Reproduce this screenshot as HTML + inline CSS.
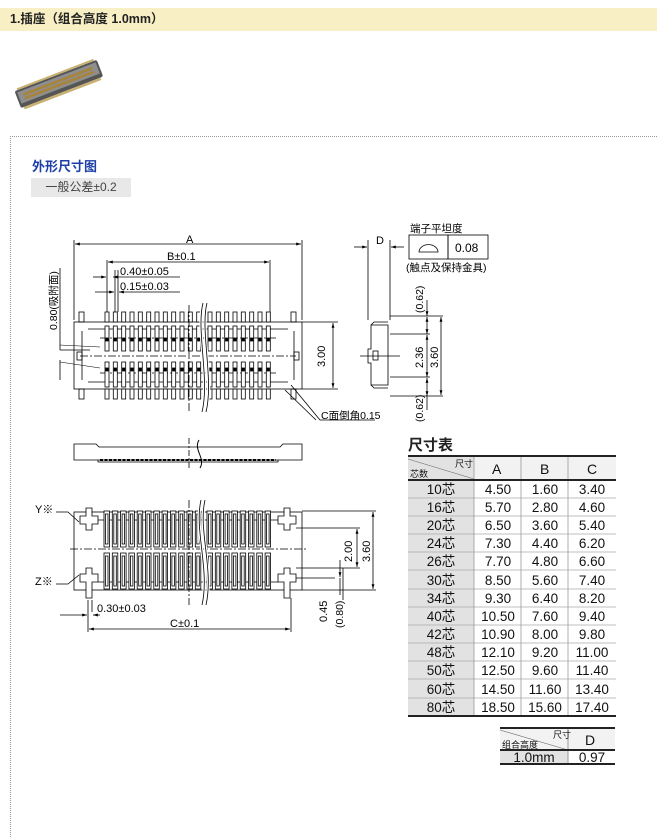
<!DOCTYPE html>
<html><head><meta charset="utf-8"><style>
body{margin:0;background:#fff;width:657px;height:793px;overflow:hidden;position:relative;font-family:"Liberation Sans","Noto Sans CJK SC",sans-serif}
.hdr{position:absolute;left:0;top:8px;width:657px;height:23px;background:#f8f0c4;font-size:12.5px;font-weight:bold;line-height:23px;color:#222;padding-left:10px;box-sizing:border-box}
.box{position:absolute;left:10px;top:136px;width:660px;height:700px;border-left:1px dotted #999;border-top:1px dotted #999}
.t1{position:absolute;left:32px;top:156px;font-size:13px;font-weight:bold;color:#1c3fa8}
.gb{position:absolute;left:31px;top:178px;width:100px;height:19px;background:#e8e8e8;font-size:12px;color:#444;line-height:19px;text-align:center}
</style></head><body>
<div class="hdr">1.插座（组合高度 1.0mm）</div>
<svg style="position:absolute;left:0;top:0" width="657" height="793">
<g transform="translate(16,95) rotate(-21)">
<rect x="0" y="-4" width="88" height="18" rx="2" fill="#555"/>
<rect x="2" y="-2" width="84" height="12" fill="#8e8e8e"/>
<rect x="7" y="1" width="74" height="2.5" fill="#a8843a"/>
<rect x="7" y="5" width="74" height="2.5" fill="#a8843a"/>
<rect x="3" y="14" width="82" height="2.5" fill="#c8b070"/>
<rect x="3" y="-6" width="82" height="2" fill="#c8b070"/>
</g>
</svg>
<div class="box"></div>
<div class="t1">外形尺寸图</div>
<div class="gb">一般公差±0.2</div>
<svg style="position:absolute;left:0;top:0" width="657" height="793" font-family="Liberation Sans, Noto Sans CJK SC, sans-serif" font-size="11">
<defs>
<g id="ct" fill="#fff" stroke="#000" stroke-width="0.8">
<rect x="0" y="312" width="4" height="10"/>
<rect x="0" y="326" width="4" height="25"/>
<rect x="0" y="362" width="4" height="25"/>
<rect x="0" y="389" width="4" height="10"/>
<rect x="0.8" y="338" width="2.4" height="3" fill="#000"/>
<rect x="0.8" y="368" width="2.4" height="3" fill="#000"/>
</g>
<g id="cb" fill="#fff" stroke="#000" stroke-width="0.8">
<rect x="0" y="511" width="5.5" height="36"/>
<rect x="1.5" y="514" width="2.5" height="30"/>
<rect x="0" y="553" width="5.5" height="36"/>
<rect x="1.5" y="556" width="2.5" height="30"/>
</g>
<marker id="a" viewBox="0 0 10 10" refX="10" refY="5" markerWidth="6" markerHeight="6" orient="auto-start-reverse"><path d="M0,2 L10,5 L0,8z" fill="#000"/></marker>
</defs>
<g stroke="#000" stroke-width="0.8" fill="none">
<rect x="74" y="322" width="228" height="67" fill="#fff"/>
<path d="M88,329 H288 M88,382 H288 M82,331 V380 M294,331 V380"/>
<path d="M100,338 H276 M100,373 H276 M80,356 H296" stroke-dasharray="8,2,2,2"/>
<rect x="77" y="352" width="5" height="8"/><rect x="294" y="352" width="5" height="8"/>
<rect x="79" y="312" width="5" height="10"/><rect x="291" y="312" width="5" height="10"/>
<rect x="79" y="389" width="5" height="10"/><rect x="291" y="389" width="5" height="10"/>
</g>
<use href="#ct" x="105"/><use href="#ct" x="113.3"/><use href="#ct" x="121.7"/><use href="#ct" x="130"/><use href="#ct" x="138.3"/><use href="#ct" x="146.7"/><use href="#ct" x="155"/><use href="#ct" x="163.3"/><use href="#ct" x="171.7"/><use href="#ct" x="180"/><use href="#ct" x="188.3"/><use href="#ct" x="196.7"/>
<use href="#ct" x="208"/><use href="#ct" x="216.3"/><use href="#ct" x="224.7"/><use href="#ct" x="233"/><use href="#ct" x="241.3"/><use href="#ct" x="249.7"/><use href="#ct" x="258"/><use href="#ct" x="266.3"/>
<g stroke="#000" stroke-width="0.8" fill="none">
<path d="M203,303 C196,330 210,380 202,412 M207,303 C200,330 214,380 206,412" stroke="#fff" stroke-width="3"/>
<path d="M203,303 C196,330 210,380 202,412 M207,303 C200,330 214,380 206,412"/>
<path d="M189,305 V412" stroke-dasharray="8,2,2,2"/>
<path d="M74,240 V320 M302,240 V320 M107,260 V312 M270,260 V312"/>
<path d="M75,244 H301" marker-start="url(#a)" marker-end="url(#a)"/>
<path d="M108,262 H269" marker-start="url(#a)" marker-end="url(#a)"/>
<path d="M93,277 H106" marker-end="url(#a)"/><path d="M113,277 H180" marker-start="url(#a)"/>
<path d="M118,270 V312 M115,270 V312"/>
<path d="M95,292 H114" marker-end="url(#a)"/><path d="M119,292 H180" marker-start="url(#a)"/>
<path d="M302,322 H338 M302,389 H338"/>
<path d="M333,323 V388" marker-start="url(#a)" marker-end="url(#a)"/>
<path d="M60,268 V350 M60,350 L90,350 M60,360 V380"/>
<path d="M60,345 L100,347 M60,362 L100,368" stroke-width="0.6"/>
<path d="M291,385 L320,420 H375 M285,390 L316,420"/>
<path d="M74,444 H96 L99,447 H280 L283,444 H302 V460 H74 Z" fill="#fff"/>
<path d="M98,460 V462 H278 V460"/>
<path d="M100,460 H276" stroke-dasharray="3,1.5" stroke-width="2"/>
<path d="M189,438 V470" stroke-dasharray="6,2,2,2"/>
<path d="M199,440 C193,450 206,458 200,468" stroke-width="1"/>
<path d="M371,325 H388 V385 H371 V363 H368 V349 H371 Z M371,325 L374,322 H388 M371,385 L374,388 H388" fill="#fff"/>
<rect x="373" y="351" width="5" height="9"/>
<path d="M360,356 H400"/>
<path d="M368,240 V320 M390,240 V320"/><path d="M354,247 H367" marker-end="url(#a)"/><path d="M391,247 H404" marker-start="url(#a)"/>
<path d="M390,316 H443 M390,334 H430 M390,377 H430 M390,396 H443"/>
<path d="M427,300 V316" marker-end="url(#a)"/><path d="M427,317 V334" marker-start="url(#a)" marker-end="url(#a)"/>
<path d="M427,335 V377" marker-start="url(#a)" marker-end="url(#a)"/><path d="M427,378 V396" marker-start="url(#a)" marker-end="url(#a)"/>
<path d="M427,396 V410"/>
<path d="M441,317 V395" marker-start="url(#a)" marker-end="url(#a)"/>
<rect x="409" y="235" width="39" height="24"/><rect x="448" y="235" width="40" height="24"/>
<path d="M419,252 H438 A9,7 0 0 0 419,252 Z"/>
<rect x="74" y="512" width="228" height="78" fill="#fff"/>
<path d="M98,520 H278 M98,582 H278"/>
</g>
<use href="#cb" x="104"/><use href="#cb" x="112.3"/><use href="#cb" x="120.6"/><use href="#cb" x="128.9"/><use href="#cb" x="137.2"/><use href="#cb" x="145.5"/><use href="#cb" x="153.8"/><use href="#cb" x="162.1"/><use href="#cb" x="170.4"/><use href="#cb" x="178.7"/><use href="#cb" x="187"/><use href="#cb" x="195.3"/>
<use href="#cb" x="207"/><use href="#cb" x="215.3"/><use href="#cb" x="223.6"/><use href="#cb" x="231.9"/><use href="#cb" x="240.2"/><use href="#cb" x="248.5"/><use href="#cb" x="256.8"/><use href="#cb" x="265.1"/>
<g stroke="#000" stroke-width="0.8" fill="#fff">
<path d="M80,516 H86 V508 H92 V516 H98 V524 H92 V530 H86 V524 H80 Z"/>
<path d="M278,516 H284 V508 H290 V516 H296 V524 H290 V530 H284 V524 H278 Z"/>
<path d="M80,574 H86 V568 H92 V574 H98 V582 H92 V598 H86 V582 H80 Z"/>
<path d="M278,574 H284 V568 H290 V574 H296 V582 H290 V598 H284 V582 H278 Z"/>
</g>
<g stroke="#000" stroke-width="0.8" fill="none">
<path d="M70,549 H306" stroke-dasharray="8,2,2,2"/>
<path d="M189,500 V605" stroke-dasharray="8,2,2,2"/>
<path d="M201,500 C194,530 210,570 202,605 M205,500 C198,530 214,570 206,605" stroke="#fff" stroke-width="3"/>
<path d="M201,500 C194,530 210,570 202,605 M205,500 C198,530 214,570 206,605"/>
<path d="M56,512 H68 L79,522 M56,584 H68 L79,575"/>
<path d="M302,511 H376 M296,528 H360 M296,568 H360 M296,578 H335 M302,590 H376"/>
<path d="M373,512 V589" marker-start="url(#a)" marker-end="url(#a)"/>
<path d="M357,529 V567" marker-start="url(#a)" marker-end="url(#a)"/>
<path d="M340,560 V577" marker-end="url(#a)"/><path d="M340,578 V595"/>
<path d="M343,568 V600"/>
<path d="M88,600 V632 M92,600 V612 M291,598 V632"/>
<path d="M60,615 H87" marker-end="url(#a)"/><path d="M93,615 H100" marker-start="url(#a)"/>
<path d="M89,629 H290" marker-start="url(#a)" marker-end="url(#a)"/>
</g>
<g font-size="11" fill="#000">
<text x="186" y="243">A</text>
<text x="167" y="260">B±0.1</text>
<text x="120" y="275">0.40±0.05</text>
<text x="120" y="290">0.15±0.03</text>
<text transform="translate(57,330) rotate(-90)" font-size="10.5">0.80(吸附面)</text>
<text transform="translate(325,367) rotate(-90)">3.00</text>
<text x="321" y="419" font-size="10.5">C面倒角0.15</text>
<text x="376" y="244">D</text>
<text x="410" y="232" font-size="10.5">端子平坦度</text>
<text x="455" y="252" font-size="12">0.08</text>
<text x="406" y="271" font-size="10.5">(触点及保持金具)</text>
<text transform="translate(423,313) rotate(-90)" font-size="10.5">(0.62)</text>
<text transform="translate(423,368) rotate(-90)">2.36</text>
<text transform="translate(438,368) rotate(-90)">3.60</text>
<text transform="translate(423,422) rotate(-90)" font-size="10.5">(0.62)</text>
<text x="35" y="513">Y※</text>
<text x="35" y="585">Z※</text>
<text transform="translate(352,562) rotate(-90)">2.00</text>
<text transform="translate(370,562) rotate(-90)">3.60</text>
<text transform="translate(327,622) rotate(-90)">0.45</text>
<text transform="translate(343,628) rotate(-90)" font-size="10.5">(0.80)</text>
<text x="97" y="612">0.30±0.03</text>
<text x="170" y="627">C±0.1</text>
</g>
<text x="408" y="450" font-size="15" font-weight="bold" fill="#222">尺寸表</text>
<g fill="#111">
<rect x="408" y="456" width="66" height="24" fill="#e2e2e2"/>
<rect x="474" y="456" width="142" height="24" fill="#f2f2f2"/>
<path d="M408,459 L474,479" stroke="#666" stroke-width="0.6"/>
<text x="455" y="467" font-size="9">尺寸</text><text x="410" y="477" font-size="9">芯数</text>
<g font-size="14"><text x="492" y="474">A</text><text x="540" y="474">B</text><text x="587" y="474">C</text></g>
<rect x="408" y="480" width="66" height="236" fill="#e2e2e2"/>
</g>
<g stroke="#aaa" stroke-width="0.8">
<path d="M408,498 H616 M408,516 H616 M408,534 H616 M408,552 H616 M408,570 H616 M408,589 H616 M408,607 H616 M408,625 H616 M408,643 H616 M408,661 H616 M408,679 H616 M408,698 H616"/>
<path d="M474,456 V716 M521,456 V716 M568,456 V716" stroke="#999"/>
</g>
<path d="M408,456 H616 M408,480 H616 M408,716 H616" stroke="#222" stroke-width="2"/>
<g font-size="13.5" fill="#111" text-anchor="middle">
<text x="441" y="494">10芯</text><text x="498" y="494">4.50</text><text x="545" y="494">1.60</text><text x="592" y="494">3.40</text>
<text x="441" y="512">16芯</text><text x="498" y="512">5.70</text><text x="545" y="512">2.80</text><text x="592" y="512">4.60</text>
<text x="441" y="530">20芯</text><text x="498" y="530">6.50</text><text x="545" y="530">3.60</text><text x="592" y="530">5.40</text>
<text x="441" y="548">24芯</text><text x="498" y="548">7.30</text><text x="545" y="548">4.40</text><text x="592" y="548">6.20</text>
<text x="441" y="566">26芯</text><text x="498" y="566">7.70</text><text x="545" y="566">4.80</text><text x="592" y="566">6.60</text>
<text x="441" y="585">30芯</text><text x="498" y="585">8.50</text><text x="545" y="585">5.60</text><text x="592" y="585">7.40</text>
<text x="441" y="603">34芯</text><text x="498" y="603">9.30</text><text x="545" y="603">6.40</text><text x="592" y="603">8.20</text>
<text x="441" y="621">40芯</text><text x="498" y="621">10.50</text><text x="545" y="621">7.60</text><text x="592" y="621">9.40</text>
<text x="441" y="639">42芯</text><text x="498" y="639">10.90</text><text x="545" y="639">8.00</text><text x="592" y="639">9.80</text>
<text x="441" y="657">48芯</text><text x="498" y="657">12.10</text><text x="545" y="657">9.20</text><text x="592" y="657">11.00</text>
<text x="441" y="675">50芯</text><text x="498" y="675">12.50</text><text x="545" y="675">9.60</text><text x="592" y="675">11.40</text>
<text x="441" y="694">60芯</text><text x="498" y="694">14.50</text><text x="545" y="694">11.60</text><text x="592" y="694">13.40</text>
<text x="441" y="712">80芯</text><text x="498" y="712">18.50</text><text x="545" y="712">15.60</text><text x="592" y="712">17.40</text>
</g>
<rect x="500" y="728" width="68" height="22" fill="#f2f2f2"/>
<rect x="568" y="728" width="47" height="22" fill="#f2f2f2"/>
<rect x="500" y="750" width="68" height="14" fill="#e2e2e2"/>
<path d="M500,730 L568,750" stroke="#666" stroke-width="0.6"/>
<path d="M568,728 V764" stroke="#999"/>
<path d="M500,728 H615 M500,750 H615 M500,764 H615" stroke="#222" stroke-width="2"/>
<g fill="#111">
<text x="553" y="738" font-size="9">尺寸</text><text x="502" y="748" font-size="9">组合高度</text>
<text x="585" y="745" font-size="14">D</text>
<text x="534" y="762" font-size="13.5" text-anchor="middle">1.0mm</text>
<text x="592" y="762" font-size="13.5" text-anchor="middle">0.97</text>
</g>
</svg>
</body></html>
